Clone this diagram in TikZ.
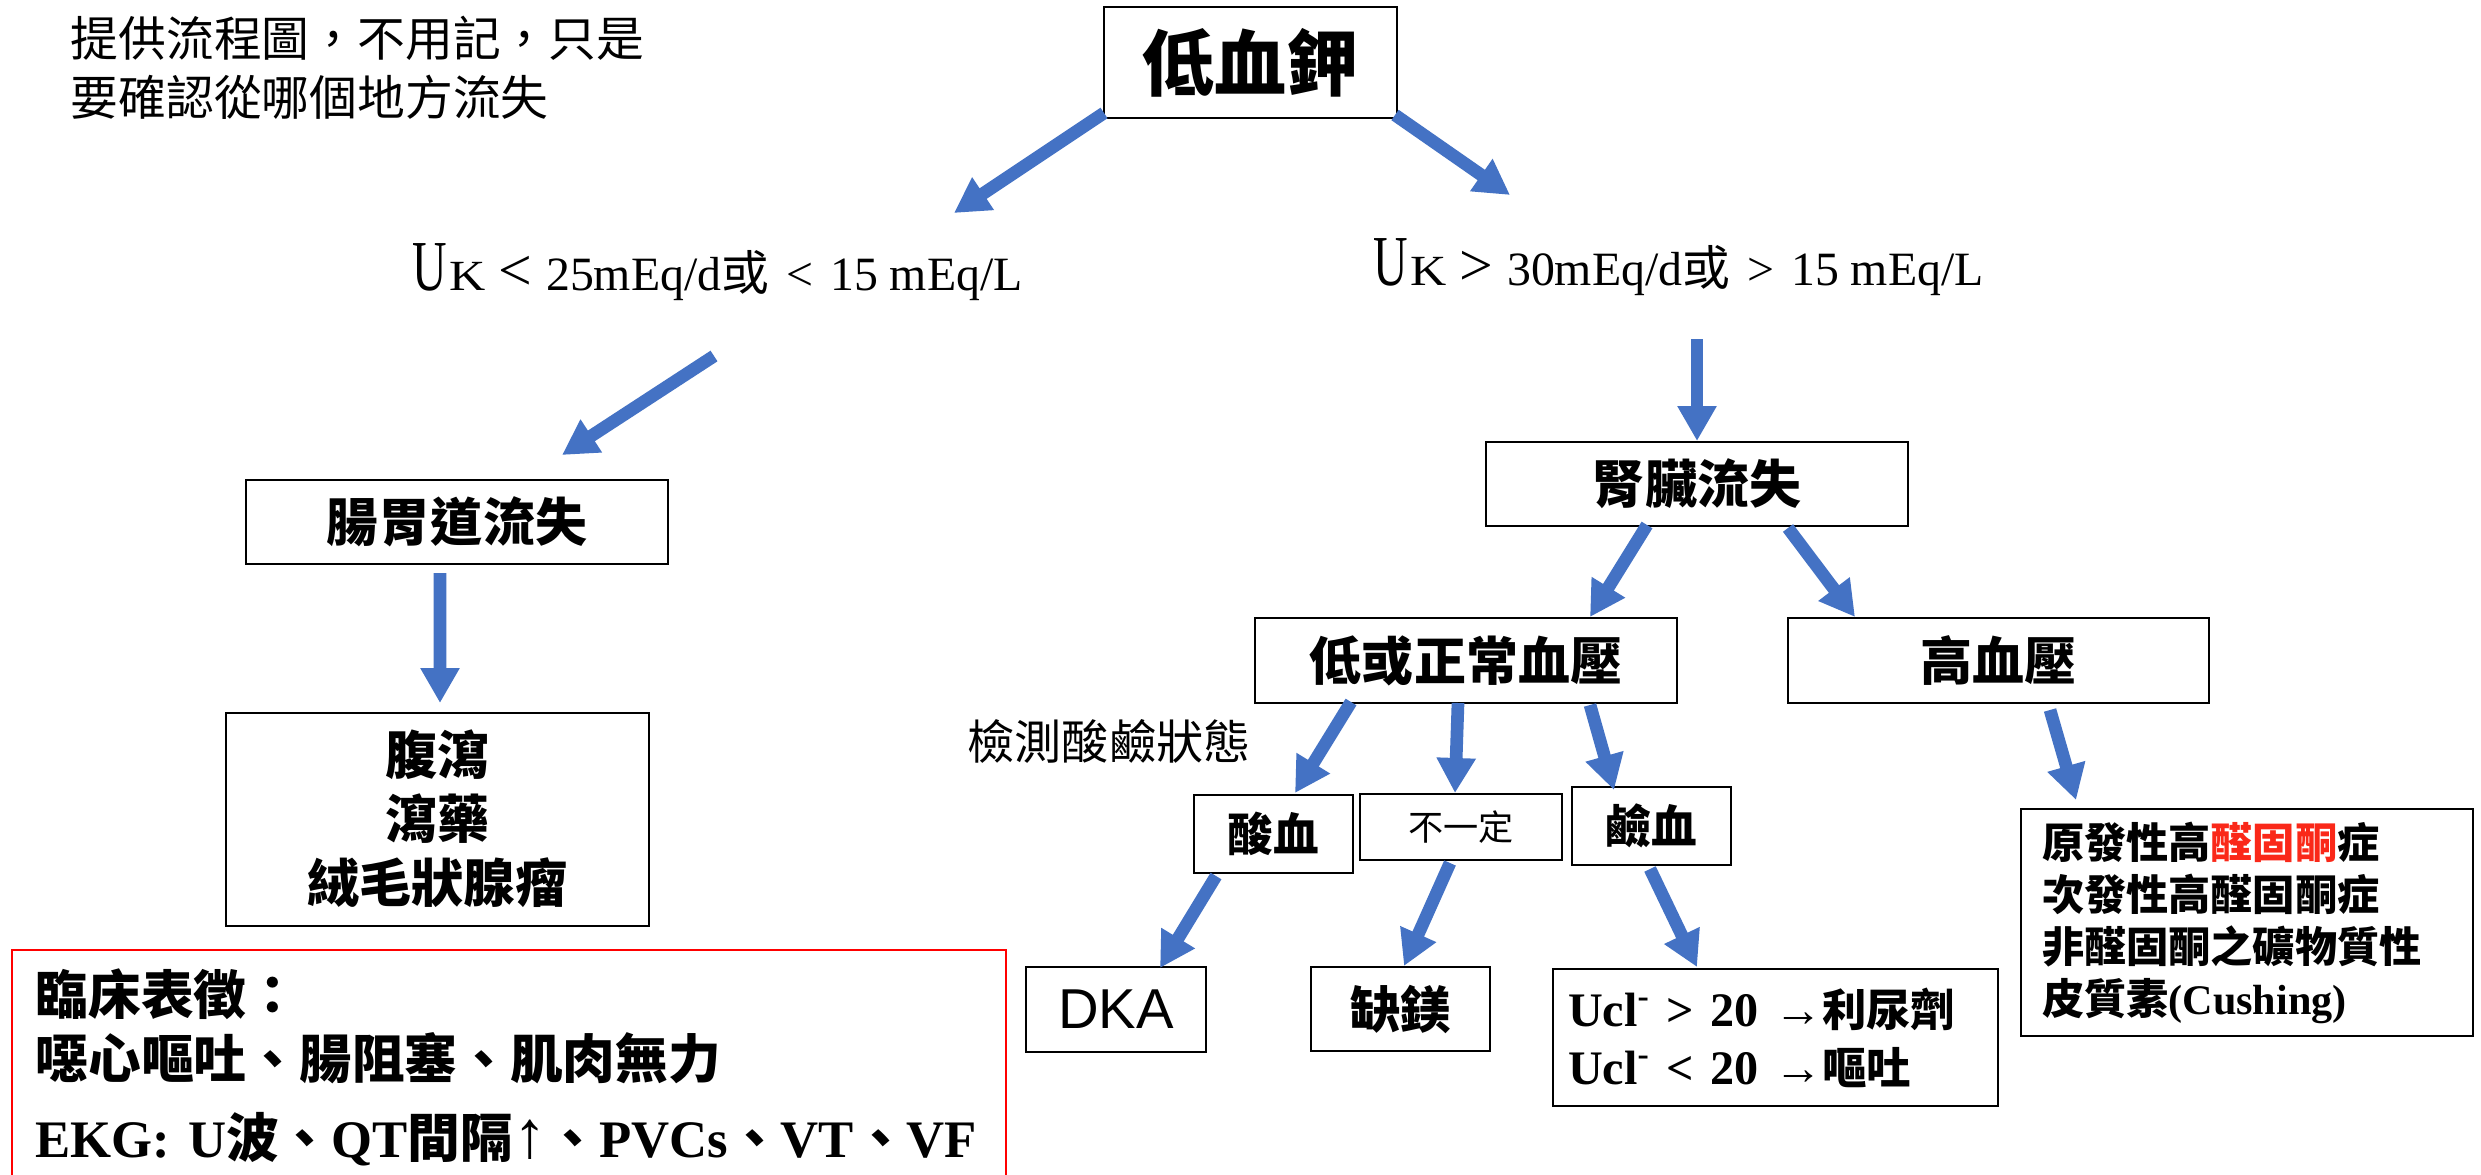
\documentclass[tikz,border=0pt]{standalone}
\usepackage{graphicx}
\usepackage{fontspec}
\setmainfont{Liberation Serif}
\newfontfamily\cjk{Noto Sans CJK TC}
\newfontfamily\arialf{Liberation Sans}
\usetikzlibrary{arrows.meta,calc}
\definecolor{arrblue}{HTML}{4472C4}
\definecolor{hired}{RGB}{250,40,25}
\newcommand\zh[1]{{\cjk #1}}
\newcommand\fs[2]{\fontsize{#1pt}{#2pt}\selectfont}
\newcommand\ukhead{\scalebox{1}[1.5]{U}\hspace{0.2mm}\scalebox{1.05}[0.9]{K}\hspace{1.3mm}}
\begin{document}
\begin{tikzpicture}[x=0.1mm,y=-0.1mm,
  box/.style={draw=black, line width=0.27mm, inner sep=0pt, align=center},
  arr/.style={draw=arrblue, line width=1.27mm, -{Triangle[width=3.7mm,length=3.5mm]}},
  bigcjk/.style={font=\cjk\bfseries\fs{14.8}{18.1}},
]
\useasboundingbox (0,0) rectangle (2481,1174);
\fill[white] (0,0) rectangle (2481,1174);

% note
\node[anchor=west, inner sep=0pt, align=left, font=\cjk\fs{13.6}{16.8}] (note) at (70,67.5)
  {提供流程圖，不用記，只是\\要確認從哪個地方流失};

% top
\node[box, minimum width=29.3mm, minimum height=11.1mm, font=\cjk\bfseries\fs{20.5}{24}] (top) at (1250.5,62.5) {低血鉀};

% labels
\node[anchor=base west, inner sep=0pt, font=\fs{13.6}{16}] (lblL) at (412,290)
  {\ukhead{\fs{17}{17}<}\hspace{1.4mm}25mEq/d\zh{或}\hspace{1.7mm}<\hspace{1.7mm}15 mEq/L};
\node[anchor=base west, inner sep=0pt, font=\fs{13.6}{16}] (lblR) at (1373,285)
  {\ukhead{\fs{17}{17}>}\hspace{1.4mm}30mEq/d\zh{或}\hspace{1.7mm}>\hspace{1.7mm}15 mEq/L};

% left branch
\node[box, minimum width=42.2mm, minimum height=8.4mm, bigcjk] (gi) at (457,522) {腸胃道流失};
\node[box, minimum width=42.3mm, minimum height=21.3mm, bigcjk] (gicause) at (437.5,819.5) {腹瀉\\瀉藥\\絨毛狀腺瘤};

% right branch
\node[box, minimum width=42.2mm, minimum height=8.4mm, bigcjk] (renal) at (1697,484) {腎臟流失};
\node[box, minimum width=42.2mm, minimum height=8.5mm, bigcjk] (lownl) at (1466,660.5) {低或正常血壓};
\node[box, minimum width=42.1mm, minimum height=8.5mm, bigcjk] (htn) at (1998.5,660.5) {高血壓};
\node[inner sep=0pt, font=\cjk\fs{13.4}{16}] (test) at (1109,741) {檢測酸鹼狀態};

\node[box, minimum width=15.9mm, minimum height=7.8mm, font=\cjk\bfseries\fs{13}{16}] (acid) at (1273.5,834) {酸血};
\node[box, minimum width=20.2mm, minimum height=6.6mm, font=\cjk\fs{10}{12}] (uncert) at (1461,827) {不一定};
\node[box, minimum width=15.9mm, minimum height=7.8mm, font=\cjk\bfseries\fs{13}{16}] (alk) at (1651.5,826) {鹼血};

\node[box, minimum width=45.2mm, minimum height=22.7mm, text width=41mm, inner xsep=2.1mm, align=left,
      font=\cjk\bfseries\fs{12}{14.8}] (aldo) at (2247,922.5)
  {原發性高\textcolor{hired}{醛固酮}症\\次發性高醛固酮症\\非醛固酮之礦物質性\\皮質素{\rmfamily\bfseries (Cushing)}};

\node[box, minimum width=18mm, minimum height=8.5mm, font=\arialf\fs{16}{19}] (dka) at (1116,1009.5) {DKA};
\node[box, minimum width=17.9mm, minimum height=8.4mm, font=\cjk\bfseries\fs{14.3}{17}] (mg) at (1400.5,1009) {缺鎂};
\node[box, minimum width=44.5mm, minimum height=13.7mm, text width=41.5mm, inner xsep=1.5mm, align=left,
      font=\bfseries\fs{13.7}{16.5}] (ucl) at (1775.5,1037.5)
  {Ucl\textsuperscript{-} > 20 →{\cjk\fs{12.6}{16.5}利尿劑}\\Ucl\textsuperscript{-} < 20 →{\cjk\fs{12.6}{16.5}嘔吐}};

% clinical box
\node[anchor=north west, text width=94.8mm, inner xsep=2.3mm, inner ysep=1.8mm,
      align=left, font=\cjk\bfseries\fs{15}{18.2}] (clin) at (12,950)
  {臨床表徵：\\噁心嘔吐、腸阻塞、肌肉無力\\[4.3pt]{\rmfamily\bfseries EKG: U}波、{\rmfamily\bfseries QT}間隔{\rmfamily\mdseries\fs{19}{18.2}↑}、{\rmfamily\bfseries PVCs}、{\rmfamily\bfseries VT}、{\rmfamily\bfseries VF}};
\draw[red, line width=0.15mm] ($(clin.north west)+(0,240)$) -- (clin.north west) -- ($(clin.north west)+(994,0)$) -- ($(clin.north west)+(994,240)$);

% arrows
\draw[arr] ($(top.center)+(-146.5,50.5)$) -- ($(lblL.base west)+(542,-77)$);
\draw[arr] ($(top.center)+(144.5,52.5)$) -- ($(lblR.base west)+(137,-90)$);
\draw[arr] ($(lblL.base west)+(302,66)$) -- ($(gi.center)+(105,-67)$);
\draw[arr] ($(gi.center)+(-17,51)$) -- ($(gicause.center)+(2.5,-116.5)$);
\draw[arr] ($(lblR.base west)+(324,54)$) -- ($(renal.center)+(0,-43)$);
\draw[arr] ($(renal.center)+(-50,41)$) -- ($(lownl.center)+(124,-43.5)$);
\draw[arr] ($(renal.center)+(91,44)$) -- ($(htn.center)+(-143.5,-43.5)$);
\draw[arr] ($(lownl.center)+(-115,41.5)$) -- ($(acid.center)+(21.5,-41)$);
\draw[arr] ($(lownl.center)+(-8,42.5)$) -- ($(uncert.center)+(-6,-34)$);
\draw[arr] ($(lownl.center)+(124,44.5)$) -- ($(alk.center)+(-37.5,-36)$);
\draw[arr] ($(htn.center)+(51.5,49.5)$) -- ($(aldo.center)+(-171,-122.5)$);
\draw[arr] ($(acid.center)+(-57.5,42)$) -- ($(dka.center)+(44,-41.5)$);
\draw[arr] ($(uncert.center)+(-11,36)$) -- ($(mg.center)+(3.5,-43)$);
\draw[arr] ($(alk.center)+(-1.5,43)$) -- ($(ucl.center)+(-78.5,-70.5)$);
\end{tikzpicture}
\end{document}
